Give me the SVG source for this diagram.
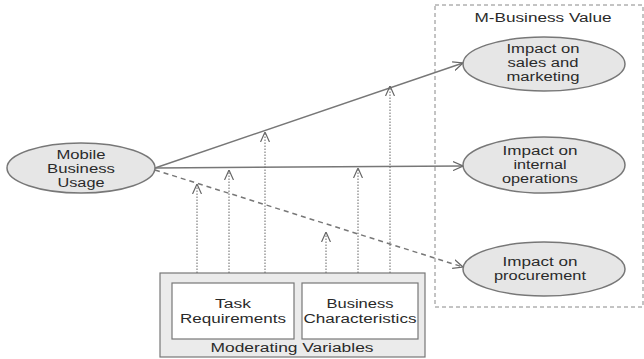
<svg xmlns="http://www.w3.org/2000/svg" width="644" height="359" viewBox="0 0 644 359">
<defs>
<marker id="arr" viewBox="0 0 10 10" refX="10" refY="5" markerWidth="10" markerHeight="10" markerUnits="userSpaceOnUse" orient="auto">
<path d="M0,0.5 L10,5 L0,9.5" fill="none" stroke="#666" stroke-width="1.2"/>
</marker>
<style>
text{font-family:"Liberation Sans",Arial,sans-serif;font-size:12.5px;fill:#2a2a2a;text-anchor:middle}
.ell{fill:#e6e6e6;stroke:#777;stroke-width:1.5}
.ln{stroke:#777;stroke-width:1.5;fill:none;marker-end:url(#arr)}
.dash{stroke-dasharray:5 4}
.dot{stroke:#666;stroke-width:1;fill:none;stroke-dasharray:1.5 1.5;marker-end:url(#arr)}
</style>
</defs>
<rect width="644" height="359" fill="#fff"/>
<g id="value-box">
<rect x="435" y="5" width="208" height="302" fill="none" stroke="#888" stroke-width="1" stroke-dasharray="4 3"/>
<text x="543" y="22" textLength="137" lengthAdjust="spacingAndGlyphs">M-Business Value</text>
</g>
<g id="moderating">
<rect x="160" y="273" width="265" height="84" fill="#ebebeb" stroke="#777" stroke-width="1.2"/>
<text x="292" y="352" textLength="163" lengthAdjust="spacingAndGlyphs">Moderating Variables</text>
</g>
<g id="task">
<rect x="172" y="283" width="122" height="56" fill="#fff" stroke="#777" stroke-width="1.2"/>
<text x="233" y="308" textLength="36" lengthAdjust="spacingAndGlyphs">Task</text>
<text x="233" y="323" textLength="106" lengthAdjust="spacingAndGlyphs">Requirements</text>
</g>
<g id="business">
<rect x="302" y="283" width="116" height="56" fill="#fff" stroke="#777" stroke-width="1.2"/>
<text x="360" y="308" textLength="67" lengthAdjust="spacingAndGlyphs">Business</text>
<text x="360" y="323" textLength="113" lengthAdjust="spacingAndGlyphs">Characteristics</text>
</g>
<g id="connectors">
<line class="ln" x1="155" y1="168" x2="463" y2="63"/>
<line class="ln" x1="155" y1="168" x2="463" y2="166"/>
<line class="ln dash" x1="155" y1="170" x2="463" y2="267"/>
<line class="dot" x1="197" y1="273" x2="197" y2="184"/>
<line class="dot" x1="229" y1="273" x2="229" y2="170"/>
<line class="dot" x1="265" y1="273" x2="265" y2="132"/>
<line class="dot" x1="326" y1="273" x2="326" y2="232"/>
<line class="dot" x1="358" y1="273" x2="358" y2="168"/>
<line class="dot" x1="390" y1="273" x2="390" y2="86"/>
</g>
<g id="usage">
<ellipse class="ell" cx="81" cy="168" rx="74" ry="25"/>
<text x="81" y="159" textLength="49" lengthAdjust="spacingAndGlyphs">Mobile</text>
<text x="81" y="173" textLength="68" lengthAdjust="spacingAndGlyphs">Business</text>
<text x="81" y="187" textLength="47" lengthAdjust="spacingAndGlyphs">Usage</text>
</g>
<g id="sales">
<ellipse class="ell" cx="544" cy="64" rx="81" ry="27"/>
<text x="543" y="53" textLength="73" lengthAdjust="spacingAndGlyphs">Impact on</text>
<text x="543" y="67" textLength="71" lengthAdjust="spacingAndGlyphs">sales and</text>
<text x="543" y="81" textLength="73" lengthAdjust="spacingAndGlyphs">marketing</text>
</g>
<g id="internal">
<ellipse class="ell" cx="544" cy="165" rx="81" ry="28"/>
<text x="540" y="155" textLength="75" lengthAdjust="spacingAndGlyphs">Impact on</text>
<text x="540" y="169" textLength="53" lengthAdjust="spacingAndGlyphs">internal</text>
<text x="540" y="183" textLength="76" lengthAdjust="spacingAndGlyphs">operations</text>
</g>
<g id="procurement">
<ellipse class="ell" cx="544" cy="269" rx="81" ry="27"/>
<text x="540" y="266" textLength="75" lengthAdjust="spacingAndGlyphs">Impact on</text>
<text x="540" y="280" textLength="92" lengthAdjust="spacingAndGlyphs">procurement</text>
</g>
</svg>
